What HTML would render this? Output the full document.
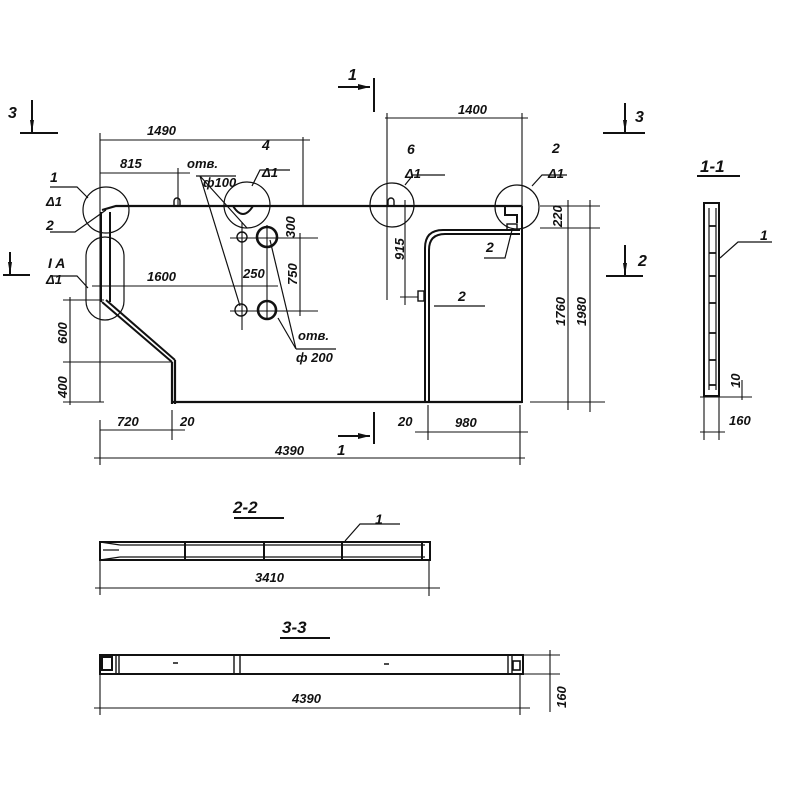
<!DOCTYPE html>
<html><head><meta charset="utf-8"><style>
html,body{margin:0;padding:0;background:#fff}
svg{display:block}
text{font-family:"Liberation Sans",sans-serif;font-style:italic;font-weight:bold;fill:#111}
</style></head><body>
<svg width="800" height="800" viewBox="0 0 800 800" xmlns="http://www.w3.org/2000/svg">
<g stroke="#111" fill="none" stroke-width="1.4">
<path d="M102 210 L116 206 L522 206" stroke-width="2.2"/>
<path d="M101 212 V302 M110 212 V302" stroke-width="2"/>
<path d="M102 302 L172 362 M106 300 L175 360" stroke-width="2"/>
<path d="M172 362 V404 M175 360 V404" stroke-width="2.2"/>
<path d="M172 402 H522" stroke-width="2.2"/>
<path d="M522 206 V403" stroke-width="2"/>
<path d="M425 403 V248 Q425 230 443 230 H520 M429 403 V250 Q429 234 445 234 H520" stroke-width="2"/>
<rect x="418" y="291" width="6" height="10" stroke-width="1.4"/>
<rect x="507" y="224" width="10" height="6"/>
<path d="M505 207 v8 h12 v8" stroke-width="2"/>
<path d="M174 207 v-6 a3 3 0 0 1 6 0 v6"/>
<path d="M388 207 v-6 a3 3 0 0 1 6 0 v6"/>
<path d="M233 206 q10 16 20 0" stroke-width="2"/>
<circle cx="242" cy="237" r="5"/>
<circle cx="267" cy="237" r="10" stroke-width="2.6"/>
<circle cx="241" cy="310" r="6"/>
<circle cx="267" cy="310" r="9" stroke-width="2.6"/>
<circle cx="106" cy="210" r="23" stroke-width="1.2"/>
<circle cx="247" cy="205" r="23" stroke-width="1.2"/>
<circle cx="392" cy="205" r="22" stroke-width="1.2"/>
<circle cx="517" cy="207" r="22" stroke-width="1.2"/>
<rect x="86" y="237" width="38" height="83" rx="19" stroke-width="1.2"/>
<path d="M50 187 H77 L88 198 M50 232 H75 L106 210 M50 276 H77 L88 288" stroke-width="1.2"/>
<path d="M252 186 L260 170 H290" stroke-width="1.2"/>
<path d="M405 185 L413 175 H445" stroke-width="1.2"/>
<path d="M532 186 L542 175 H567" stroke-width="1.2"/>
<path d="M484 258 H505 L512 230 M434 306 H485" stroke-width="1.2"/>
<path d="M196 176 H236 L200 176 L240 306 M200 176 L247 228" stroke-width="1.2"/>
<path d="M296 349 H336 M296 349 L278 318 M296 349 L270 240" stroke-width="1.2"/>
<path d="M100 140 H310 M100 133 V402 M303 137 V206" stroke-width="1.1"/>
<path d="M100 173 H190 M178 168 V207" stroke-width="1.1"/>
<path d="M385 118 H528 M387 113 V300 M522 113 V206" stroke-width="1.1"/>
<path d="M405 200 V305 M400 297 H418" stroke-width="1.1"/>
<path d="M540 206 H600 M540 228 H600 M530 402 H605" stroke-width="1.1"/>
<path d="M568 200 V410 M590 200 V412" stroke-width="1.1"/>
<path d="M230 238 H318 M230 311 H318 M300 233 V316 M242 222 V330 M267 225 V320" stroke-width="1.1"/>
<path d="M92 286 H278" stroke-width="1.1"/>
<path d="M63 300 H104 M63 362 H172 M63 402 H104 M70 297 V405" stroke-width="1.1"/>
<path d="M100 430 H185 M172 410 V440" stroke-width="1.1"/>
<path d="M415 432 H528 M428 405 V440" stroke-width="1.1"/>
<path d="M94 458 H525 M100 420 V465 M520 405 V465" stroke-width="1.1"/>
<path d="M338 87 H370 M374 78 V112" stroke-width="2"/>
<path d="M338 436 H370 M374 412 V444" stroke-width="2"/>
<path d="M20 133 H58 M32 100 V133" stroke-width="2"/>
<path d="M603 133 H645 M625 103 V133" stroke-width="2"/>
<path d="M606 276 H643 M625 245 V276" stroke-width="2"/>
<path d="M3 275 H30 M10 252 V275" stroke-width="2"/>
<rect x="704" y="203" width="15" height="193" stroke-width="2"/>
<path d="M709 208 V390 M716 208 V390" stroke-width="1.2"/>
<path d="M709 226 h7 M709 253 h7 M709 276 h7 M709 303 h7 M709 333 h7 M709 360 h7 M709 385 h7" stroke-width="1.8"/>
<path d="M720 258 L738 242 H772" stroke-width="1.2"/>
<path d="M697 176 H740" stroke-width="2"/>
<path d="M700 397 H752 M704 380 V440 M719 390 V440 M700 432 H725 M742 380 V400" stroke-width="1.1"/>
<path d="M100 542 H430 V560 H100 Z" stroke-width="2"/>
<path d="M120 545 H425 M120 557 H425" stroke-width="1.2"/>
<path d="M185 543 v17 M264 543 v17 M342 543 v17 M422 543 v17" stroke-width="2"/>
<path d="M103 550 h16 M100 542 L120 545 M100 560 L120 557" stroke-width="1.2"/>
<path d="M345 541 L360 524 H400" stroke-width="1.2"/>
<path d="M234 518 H284" stroke-width="2"/>
<path d="M100 560 V595 M429 560 V596 M95 588 H440" stroke-width="1.1"/>
<path d="M100 655 H523 V674 H100 Z" stroke-width="2"/>
<path d="M116 656 v17 M119 656 v17 M234 656 v17 M240 656 v17 M508 656 v17 M512 656 v17" stroke-width="1.4"/>
<rect x="102" y="657" width="10" height="13" stroke-width="2"/>
<rect x="513" y="661" width="7" height="9" stroke-width="1.6"/>
<path d="M173 663 h5 M384 664 h5" stroke-width="1.6"/>
<path d="M280 638 H330" stroke-width="2"/>
<path d="M100 674 V715 M520 674 V715 M94 708 H530 M520 655 H560 M520 674 H560 M550 650 V712" stroke-width="1.1"/>
</g>
<g fill="#111">
<path d="M30 120 l2 13 l2 -13 z M623 120 l2 13 l2 -13 z M623 263 l2 13 l2 -13 z M8 262 l2 13 l2 -13 z M358 84 l12 3 l-12 3 z M358 433 l12 3 l-12 3 z"/>
</g>
<g font-size="13">
<text x="147" y="135">1490</text>
<text x="120" y="168">815</text>
<text x="187" y="168">отв.</text>
<text x="203" y="187">ф100</text>
<text x="262" y="150" font-size="14">4</text>
<text x="262" y="177">Δ1</text>
<text x="458" y="114">1400</text>
<text x="407" y="154" font-size="14">6</text>
<text x="405" y="178">Δ1</text>
<text x="552" y="153" font-size="14">2</text>
<text x="548" y="178">Δ1</text>
<text x="50" y="182" font-size="14">1</text>
<text x="46" y="206">Δ1</text>
<text x="46" y="230" font-size="14">2</text>
<text x="48" y="268" font-size="14">I A</text>
<text x="46" y="284">Δ1</text>
<text x="147" y="281">1600</text>
<text x="243" y="278">250</text>
<text x="298" y="340">отв.</text>
<text x="296" y="362">ф 200</text>
<text x="486" y="252" font-size="14">2</text>
<text x="458" y="301" font-size="14">2</text>
<text x="117" y="426">720</text>
<text x="180" y="426">20</text>
<text x="398" y="426">20</text>
<text x="455" y="427">980</text>
<text x="275" y="455">4390</text>
<text x="337" y="455" font-size="15">1</text>
<text x="348" y="80" font-size="16">1</text>
<text x="8" y="118" font-size="16">3</text>
<text x="635" y="122" font-size="16">3</text>
<text x="638" y="266" font-size="16">2</text>
<text x="700" y="172" font-size="17">1-1</text>
<text x="760" y="240" font-size="14">1</text>
<text x="729" y="425">160</text>
<text x="233" y="513" font-size="17">2-2</text>
<text x="375" y="524" font-size="14">1</text>
<text x="255" y="582">3410</text>
<text x="282" y="633" font-size="17">3-3</text>
<text x="292" y="703">4390</text>
<g transform="rotate(-90)">
<text x="-238" y="295">300</text>
<text x="-285" y="297">750</text>
<text x="-260" y="404">915</text>
<text x="-227" y="562">220</text>
<text x="-326" y="565">1760</text>
<text x="-326" y="586">1980</text>
<text x="-344" y="67">600</text>
<text x="-398" y="67">400</text>
<text x="-388" y="740">10</text>
<text x="-708" y="566">160</text>
</g>
</g>
</svg>
</body></html>
